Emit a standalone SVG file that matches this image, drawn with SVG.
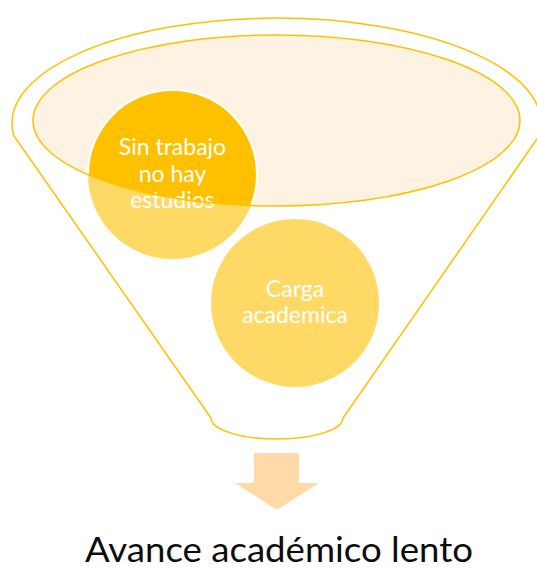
<svg xmlns="http://www.w3.org/2000/svg" width="537" height="569" viewBox="0 0 537 569">
  <defs>
    <style>
      .funnel { fill: none; stroke: #FFC000; stroke-width: 1.5; }
      .rim { fill: #FEF2E2; stroke: none; }
      .rimline { fill: none; stroke: #FFC000; stroke-width: 1.5; }
      .light { fill: #FFD966; }
      .dark { fill: #FFC000; }
      .ctext { font-family: Lato, "Liberation Sans", sans-serif; font-size: 23px; fill: #FFFFFF; text-anchor: middle; }
      .label { font-family: Lato, "Liberation Sans", sans-serif; font-size: 35px; fill: #0D0D0D; text-anchor: middle; }
      .arrow { fill: #FFDAA6; }
    </style>
    <clipPath id="rimClip">
      <ellipse cx="276.5" cy="120.5" rx="243.5" ry="85.5"/>
    </clipPath>
  </defs>

  <g id="funnel">
    <path class="funnel" d="M 14,136 A 264.5 105 0 1 1 539,136 L 343,418 A 66 21 0 0 1 211,418 Z"/>
    <ellipse class="rim" cx="276.5" cy="120.5" rx="243.5" ry="85.5"/>
  </g>

  <g id="node-sin-trabajo">
    <circle class="light" cx="172.5" cy="174.5" r="84.5"/>
    <circle class="dark" cx="172.5" cy="174.5" r="84.5" clip-path="url(#rimClip)" stroke="#FFFFFF" stroke-width="2"/>
    <text class="ctext" x="172.5" y="155">Sin trabajo</text>
    <text class="ctext" x="172.5" y="181.5">no hay</text>
    <text class="ctext" x="172.5" y="208">estudios</text>
  </g>

  <g id="node-carga">
    <circle class="light" cx="295" cy="303" r="84"/>
    <text class="ctext" x="295" y="297">Carga</text>
    <text class="ctext" x="295" y="323">academica</text>
  </g>

  <g id="rim-outline">
    <ellipse class="rimline" cx="276.5" cy="120.5" rx="243.5" ry="85.5"/>
  </g>

  <g id="connectors">
    <path class="arrow" d="M 254,453 L 299,453 L 299,483 L 319,483 L 277,510 L 235,483 L 254,483 Z"/>
  </g>

  <g id="node-result">
    <text class="label" x="279" y="562" textLength="388" lengthAdjust="spacingAndGlyphs">Avance académico lento</text>
  </g>
</svg>
